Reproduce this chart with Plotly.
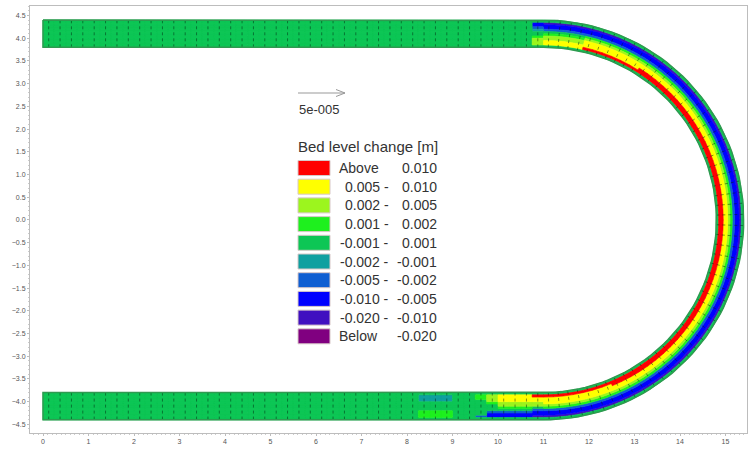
import bisect
import math
import plotly.graph_objects as go

# ---------------- legend classes (bed level change, m) ----------------
class_edges = [-0.020, -0.010, -0.005, -0.002, -0.001, 0.001, 0.002, 0.005, 0.010]
class_colors = ["#800080", "#4010c0", "#0000ff", "#0f5fd2", "#10a0a0",
                "#0dc655", "#1ef01e", "#9cf51e", "#ffff00", "#ff0000"]
legend_first = ["Above", "0.005 -", "0.002 -", "0.001 -", "-0.001 -",
                "-0.002 -", "-0.005 -", "-0.010 -", "-0.020 -", "Below"]
legend_second = ["0.010", "0.010", "0.005", "0.002", "0.001",
                 "-0.001", "-0.002", "-0.005", "-0.010", "-0.020"]
legend_title = "Bed level change [m]"
vector_label = "5e-005"

# ---------------- cross-section profiles (inner bank -> outer bank), m ----------------
profile_flat = [0.0, 0.0, 0.0, 0.0, 0.0, 0.0, 0.0, 0.0, 0.0, 0.0, 0.0, 0.0]
profile_entry = [0.0, 0.003, 0.003, 0.002, 0.0015, 0.0, 0.0, -0.0015, -0.003, -0.006, -0.007, 0.0]
profile_bend_in = [0.0, 0.007, 0.006, 0.004, 0.003, 0.0015, 0.0, -0.002, -0.006, -0.008, -0.012, 0.0]
profile_bend_red = [0.0, 0.012, 0.008, 0.007, 0.005, 0.003, 0.0015, -0.002, -0.006, -0.008, -0.013, 0.0]
profile_bend_main = [0.0, 0.013, 0.012, 0.008, 0.007, 0.004, 0.0015, -0.003, -0.007, -0.008, -0.013, 0.0]
profile_exit_red = [0.0, 0.011, 0.008, 0.006, 0.004, 0.002, 0.0, -0.002, -0.005, -0.008, -0.011, 0.0]
profile_exit_yellow = [0.0, 0.007, 0.007, 0.006, 0.004, 0.003, 0.0015, 0.0, -0.003, -0.007, -0.008, 0.0]
profile_exit_lg = [0.0, 0.003, 0.003, 0.003, 0.0015, 0.0, 0.0, 0.0, -0.002, -0.006, -0.006, 0.0]
profile_exit_blue = [0.0, 0.0015, 0.0015, 0.0, 0.0, 0.0, 0.0, 0.0, 0.0, 0.0, -0.003, 0.0]
profile_patch = [0.0, -0.0015, -0.0015, -0.0015, 0.0, 0.0, 0.0, 0.0, 0.0015, 0.0015, 0.0015, 0.0]

# ---------------- along-channel zones ----------------
top_zone_x = [0.0, 10.75]                       # zone start x (top reach, x increasing)
top_zone_profile = [profile_flat, profile_entry]
bend_zone_deg = [0, 10, 30, 155]                # zone start angle (bend, from top clockwise)
bend_zone_profile = [profile_bend_in, profile_bend_red, profile_bend_main, profile_bend_red]
bottom_zone_x = [11.0, 10.75, 10.0, 9.75, 9.5, 9.0, 8.25]   # zone start x (bottom reach, x decreasing)
bottom_zone_profile = [profile_exit_red, profile_exit_yellow, profile_exit_lg, profile_exit_blue,
                       profile_flat, profile_patch, profile_flat]

# ---------------- geometry ----------------
reach_len = 11.0
cell_len = 0.25
bend_cx, bend_cy = 11.0, 0.0
r_in, r_out = 3.8, 4.4
n_across = 12
n_bend = 56

def class_of(v):
    return bisect.bisect_right(class_edges, v) if v >= 0 else bisect.bisect_left(class_edges, v)

polys_x = [[] for _ in class_colors]
polys_y = [[] for _ in class_colors]
mesh_x, mesh_y = [], []

def add_poly(k, xs, ys):
    polys_x[k].extend(xs + [xs[0], None])
    polys_y[k].extend(ys + [ys[0], None])

dr = (r_out - r_in) / n_across
n_reach = int(round(reach_len / cell_len))

# top reach
for i in range(n_reach):
    xa, xb = i * cell_len, (i + 1) * cell_len
    zi = bisect.bisect_right(top_zone_x, xa + 1e-9) - 1
    prof = top_zone_profile[zi]
    for j in range(n_across):
        ya, yb = r_in + j * dr, r_in + (j + 1) * dr
        add_poly(class_of(prof[j]), [xa, xb, xb, xa], [ya, ya, yb, yb])
    xm = (xa + xb) / 2
    mesh_x += [xm, xm, None]
    mesh_y += [r_in, r_out, None]

# bend
for i in range(n_bend):
    ta, tb = 180.0 * i / n_bend, 180.0 * (i + 1) / n_bend
    zi = bisect.bisect_right(bend_zone_deg, ta + 1e-9) - 1
    prof = bend_zone_profile[zi]
    sa, ca = math.sin(math.radians(ta)), math.cos(math.radians(ta))
    sb, cb = math.sin(math.radians(tb)), math.cos(math.radians(tb))
    for j in range(n_across):
        ra, rb = r_in + j * dr, r_in + (j + 1) * dr
        xs = [bend_cx + ra * sa, bend_cx + ra * sb, bend_cx + rb * sb, bend_cx + rb * sa]
        ys = [bend_cy + ra * ca, bend_cy + ra * cb, bend_cy + rb * cb, bend_cy + rb * ca]
        add_poly(class_of(prof[j]), xs, ys)
    tm = math.radians((ta + tb) / 2)
    mesh_x += [bend_cx + r_in * math.sin(tm), bend_cx + r_out * math.sin(tm), None]
    mesh_y += [bend_cy + r_in * math.cos(tm), bend_cy + r_out * math.cos(tm), None]

# bottom reach
zone_neg = [-z for z in bottom_zone_x]
for i in range(n_reach):
    xb, xa = reach_len - i * cell_len, reach_len - (i + 1) * cell_len
    zi = bisect.bisect_right(zone_neg, -xb + 1e-9) - 1
    prof = bottom_zone_profile[zi]
    for j in range(n_across):
        ya, yb = -(r_in + j * dr), -(r_in + (j + 1) * dr)
        add_poly(class_of(prof[j]), [xa, xb, xb, xa], [ya, ya, yb, yb])
    xm = (xa + xb) / 2
    mesh_x += [xm, xm, None]
    mesh_y += [-r_in, -r_out, None]

fig = go.Figure()
for k, col in enumerate(class_colors):
    if not polys_x[k]:
        continue
    fig.add_trace(go.Scatter(x=polys_x[k], y=polys_y[k], mode="lines", fill="toself",
                             fillcolor=col, line=dict(color=col, width=0.6),
                             hoverinfo="skip", showlegend=False))

fig.add_trace(go.Scatter(x=mesh_x, y=mesh_y, mode="lines",
                         line=dict(color="rgba(0,40,15,0.5)", width=1, dash="dot"),
                         hoverinfo="skip", showlegend=False))

# channel outline
ox, oy = [0.0, reach_len], [r_out, r_out]
for t in range(0, 181, 2):
    a = math.radians(t)
    ox.append(bend_cx + r_out * math.sin(a)); oy.append(bend_cy + r_out * math.cos(a))
ox += [0.0, 0.0, reach_len]; oy += [-r_out, -r_in, -r_in]
for t in range(180, -1, -2):
    a = math.radians(t)
    ox.append(bend_cx + r_in * math.sin(a)); oy.append(bend_cy + r_in * math.cos(a))
ox += [0.0, 0.0]; oy += [r_in, r_out]
fig.add_trace(go.Scatter(x=ox, y=oy, mode="lines", line=dict(color="#2f9a50", width=1.5),
                         hoverinfo="skip", showlegend=False))

# ---------------- layout ----------------
W, H = 748, 449
ML, MR, MT, MB = 30, 1, 6, 16
PW, PH = W - ML - MR, H - MT - MB

def px(p):
    return (p - ML) / PW

def py(p):
    return 1 - (p - MT) / PH

shapes = []
annotations = []
fam = "Liberation Sans, Arial, sans-serif"
font_row = dict(family=fam, size=14, color="#333333")
font_title = dict(family=fam, size=15, color="#333333")
font_vec = dict(family=fam, size=13, color="#333333")

# vector scale arrow
for (xa, ya, xb, yb) in [(298, 93, 345, 93), (345, 93, 336, 89.5), (345, 93, 336, 96.5)]:
    shapes.append(dict(type="line", xref="paper", yref="paper", x0=px(xa), y0=py(ya),
                       x1=px(xb), y1=py(yb), line=dict(color="#999999", width=1)))
annotations.append(dict(x=px(297), y=py(109), xref="paper", yref="paper", text=vector_label,
                        showarrow=False, xanchor="left", yanchor="middle", font=font_vec))
annotations.append(dict(x=px(296), y=py(147), xref="paper", yref="paper", text=legend_title,
                        showarrow=False, xanchor="left", yanchor="middle", font=font_title))

row0, pitch = 168.0, 18.7
for r in range(len(class_colors)):
    k = len(class_colors) - 1 - r
    yc = row0 + r * pitch
    shapes.append(dict(type="rect", xref="paper", yref="paper", x0=px(298), x1=px(330),
                       y0=py(yc - 7.5), y1=py(yc + 7.5), fillcolor=class_colors[k],
                       line=dict(color="#d8c8c8", width=1)))
    first = legend_first[r]
    if first in ("Above", "Below"):
        annotations.append(dict(x=px(337), y=py(yc), xref="paper", yref="paper", text=first,
                                showarrow=False, xanchor="left", yanchor="middle", font=font_row))
    else:
        annotations.append(dict(x=px(391), y=py(yc), xref="paper", yref="paper", text=first,
                                showarrow=False, xanchor="right", yanchor="middle", font=font_row))
    annotations.append(dict(x=px(439), y=py(yc), xref="paper", yref="paper", text=legend_second[r],
                            showarrow=False, xanchor="right", yanchor="middle", font=font_row))

x_range = [-13 / 45.5, -13 / 45.5 + PW / 45.5]
y_range = [-4.69, -4.69 + PH / 45.43]

axis_common = dict(showgrid=False, zeroline=False, showline=True, linecolor="#bdbdbd",
                   linewidth=1, mirror=True, ticks="outside", ticklen=2, tickcolor="#bdbdbd",
                   tickfont=dict(family=fam, size=7, color="#555555"))

fig.update_layout(
    width=W, height=H,
    margin=dict(l=ML, r=MR, t=MT, b=MB),
    paper_bgcolor="white", plot_bgcolor="white",
    showlegend=False,
    shapes=shapes, annotations=annotations,
    xaxis=dict(range=x_range, dtick=1, tick0=0, tickformat="d",
               minor=dict(dtick=0.1, ticks="outside", ticklen=1, tickcolor="#cccccc"),
               **axis_common),
    yaxis=dict(range=y_range, dtick=0.5, tick0=0, tickformat=".1f",
               minor=dict(dtick=0.1, ticks="outside", ticklen=1, tickcolor="#cccccc"),
               **axis_common),
)

fig.write_html("out.html", config={"displayModeBar": False},
               post_script="document.body.style.margin='0px';document.body.style.overflow='hidden';")
